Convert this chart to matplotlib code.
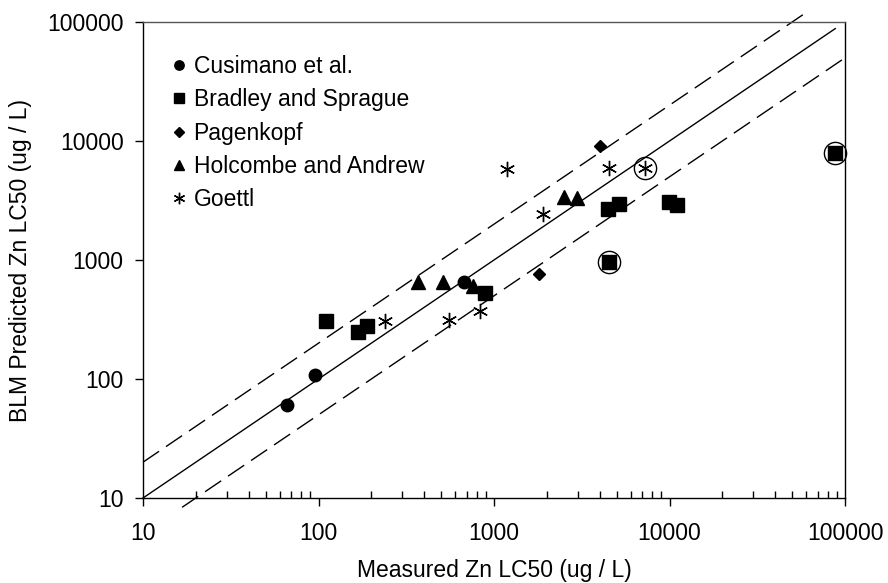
import numpy as np
import matplotlib.pyplot as plt
from matplotlib.ticker import LogLocator, NullFormatter

plt.rcParams['font.family'] = ['Liberation Sans', 'DejaVu Sans']

# measured vs predicted Zn LC50 (ug/L)
cus_x = [66, 96, 675]
cus_y = [61, 108, 658]

brad_x = [110, 169, 189, 885, 4480, 5150, 9980, 11100, 4520, 87700]
brad_y = [307, 250, 279, 531, 2670, 2940, 3090, 2900, 969, 7980]

pag_x = [4020, 1800]
pag_y = [9080, 762]

hol_x = [371, 514, 756, 2510, 2970]
hol_y = [650, 650, 606, 3400, 3300]

goe_x = [239, 556, 832, 1190, 1910, 4520, 7230]
goe_y = [307, 313, 372, 5820, 2420, 5900, 5970]

# points ringed in the original figure
ring_x = [brad_x[8], brad_x[9], goe_x[6]]
ring_y = [brad_y[8], brad_y[9], goe_y[6]]

# 1:1 line and factor-of-two bounds
one_x = [10, 88000]
upper_x = [10, 59000]
lower_x = [16.7, 100000]

ticks = [10, 100, 1000, 10000, 100000]
tick_labels = ['10', '100', '1000', '10000', '100000']

fig = plt.figure(figsize=(8.88, 5.83), dpi=100)
ax = fig.add_axes([143 / 888, 85 / 583, 702 / 888, 476 / 583])
ax.set_xscale('log')
ax.set_yscale('log')
ax.set_xlim(10, 100000)
ax.set_ylim(10, 100000)

ax.plot(one_x, one_x, color='black', lw=1.0, clip_on=False, zorder=2)
ax.plot(upper_x, [2 * v for v in upper_x], color='black', lw=1.0,
        dashes=(14, 6), clip_on=False, zorder=2)
ax.plot(lower_x, [v / 2 for v in lower_x], color='black', lw=1.0,
        dashes=(14, 6), clip_on=False, zorder=2)

kw = dict(linestyle='none', color='black', clip_on=False, zorder=3)
ax.plot(cus_x, cus_y, marker='o', ms=9, label='Cusimano et al.', **kw)
ax.plot(brad_x, brad_y, marker='s', ms=10, label='Bradley and Sprague', **kw)
ax.plot(pag_x, pag_y, marker='D', ms=6.5, label='Pagenkopf', **kw)
ax.plot(hol_x, hol_y, marker='^', ms=10, label='Holcombe and Andrew', **kw)
ax.plot(goe_x, goe_y, marker=(6, 2, 0), ms=11, mew=1.0, label='Goettl', **kw)
ax.plot(ring_x, ring_y, marker='o', ms=16, mfc='none', mec='black', mew=1.0,
        linestyle='none', clip_on=False, zorder=3)

ax.set_xticks(ticks)
ax.set_xticklabels(tick_labels)
ax.xaxis.set_minor_locator(LogLocator(base=10, subs=np.arange(2, 10), numticks=10))
ax.xaxis.set_minor_formatter(NullFormatter())
ax.set_yticks(ticks)
ax.set_yticklabels(tick_labels)
ax.yaxis.set_minor_locator(plt.NullLocator())

ax.tick_params(axis='both', which='major', direction='out', length=6,
               width=1, labelsize=16.5, color='black')
ax.tick_params(axis='x', which='major', pad=11)
ax.tick_params(axis='y', which='major', pad=8)
ax.tick_params(axis='x', which='minor', direction='in', length=5, width=1)

for s in ax.spines.values():
    s.set_linewidth(1.0)
ax.spines['top'].set_color('#555555')

ax.set_xlabel('Measured Zn LC50 (ug / L)', fontsize=16.5, labelpad=10.5)
ax.set_ylabel('BLM Predicted Zn LC50 (ug / L)', fontsize=16.5, labelpad=11)

ax.legend(loc='upper left', bbox_to_anchor=(0.028, 0.95), frameon=False,
          fontsize=16.5, handlelength=0.6, handletextpad=0.35,
          labelspacing=0.45, borderaxespad=0, markerscale=0.75)

fig.savefig('out.png', dpi=100)
